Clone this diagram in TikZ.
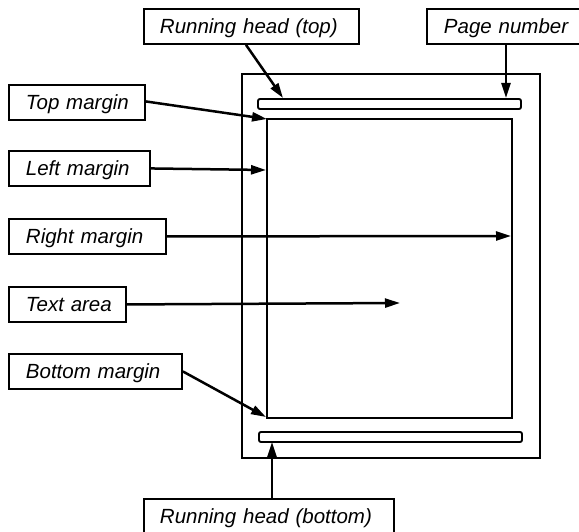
\documentclass[tikz,border=0pt]{standalone}
\usepackage{fontspec}
\setmainfont{Liberation Sans}
\usetikzlibrary{arrows.meta}
\tikzset{
  lbl/.style={draw, line width=1.9pt, anchor=north west, inner xsep=0pt,
    minimum height=35pt, text height=17pt, text depth=2pt, align=left,
    font=\fontsize{20.5}{23}\selectfont\itshape},
  pageline/.style={line width=1.9pt},
  ptr/.style={line width=2.5pt, -{Triangle[length=15pt,width=9pt]}},
}
\begin{document}
\begin{tikzpicture}[x=1pt,y=-1pt]
\useasboundingbox (0,0) rectangle (579,532);
\clip (0,0) rectangle (579,532);
% page outline, running-head bars and text block
\draw[pageline] (242,74) rectangle (540,458);
\draw[pageline, rounded corners=2pt] (258,99) rectangle (521,109);
\draw[pageline, rounded corners=2pt] (259,432) rectangle (522,442);
\draw[pageline] (267,119) rectangle (512,418);
\coordinate (tophead) at (283,98);
\coordinate (pagenum) at (506,98);
\coordinate (topm) at (267,119);
\coordinate (leftm) at (266,170);
\coordinate (rightm) at (511,236);
\coordinate (textm) at (400,303);
\coordinate (botm) at (266,417);
\coordinate (bothead) at (272,442);
% callout boxes
\node[lbl, text width=215pt] (rht) at (143,8) {\hspace*{16pt}Running head (top)};
\node[lbl, text width=170pt] (pn) at (426,8) {\hspace*{17pt}Page number};
\node[lbl, text width=136pt] (tm) at (8,84) {\hspace*{17pt}Top margin};
\node[lbl, text width=141pt] (lm) at (8,150) {\hspace*{17pt}Left margin};
\node[lbl, text width=157pt] (rm) at (8,218) {\hspace*{17pt}Right margin};
\node[lbl, text width=117pt] (ta) at (8,286) {\hspace*{17pt}Text area};
\node[lbl, text width=173pt] (bm) at (8,353) {\hspace*{17pt}Bottom margin};
\node[lbl, text width=250pt] (rhb) at (143,498) {\hspace*{16pt}Running head (bottom)};
% pointers
\draw[ptr] (rht.south west) ++(103,0) -- (tophead);
\draw[ptr] (pn.south west) ++(80,0) -- (pagenum);
\draw[ptr] (tm.east) ++(0,-1) -- (topm);
\draw[ptr] (lm.east) -- (leftm);
\draw[ptr] (rm.east) -- (rightm);
\draw[ptr] (ta.east) -- (textm);
\draw[ptr] (bm.east) -- (botm);
\draw[ptr] (rhb.north west) ++(129,0) -- (bothead);
\end{tikzpicture}
\end{document}
